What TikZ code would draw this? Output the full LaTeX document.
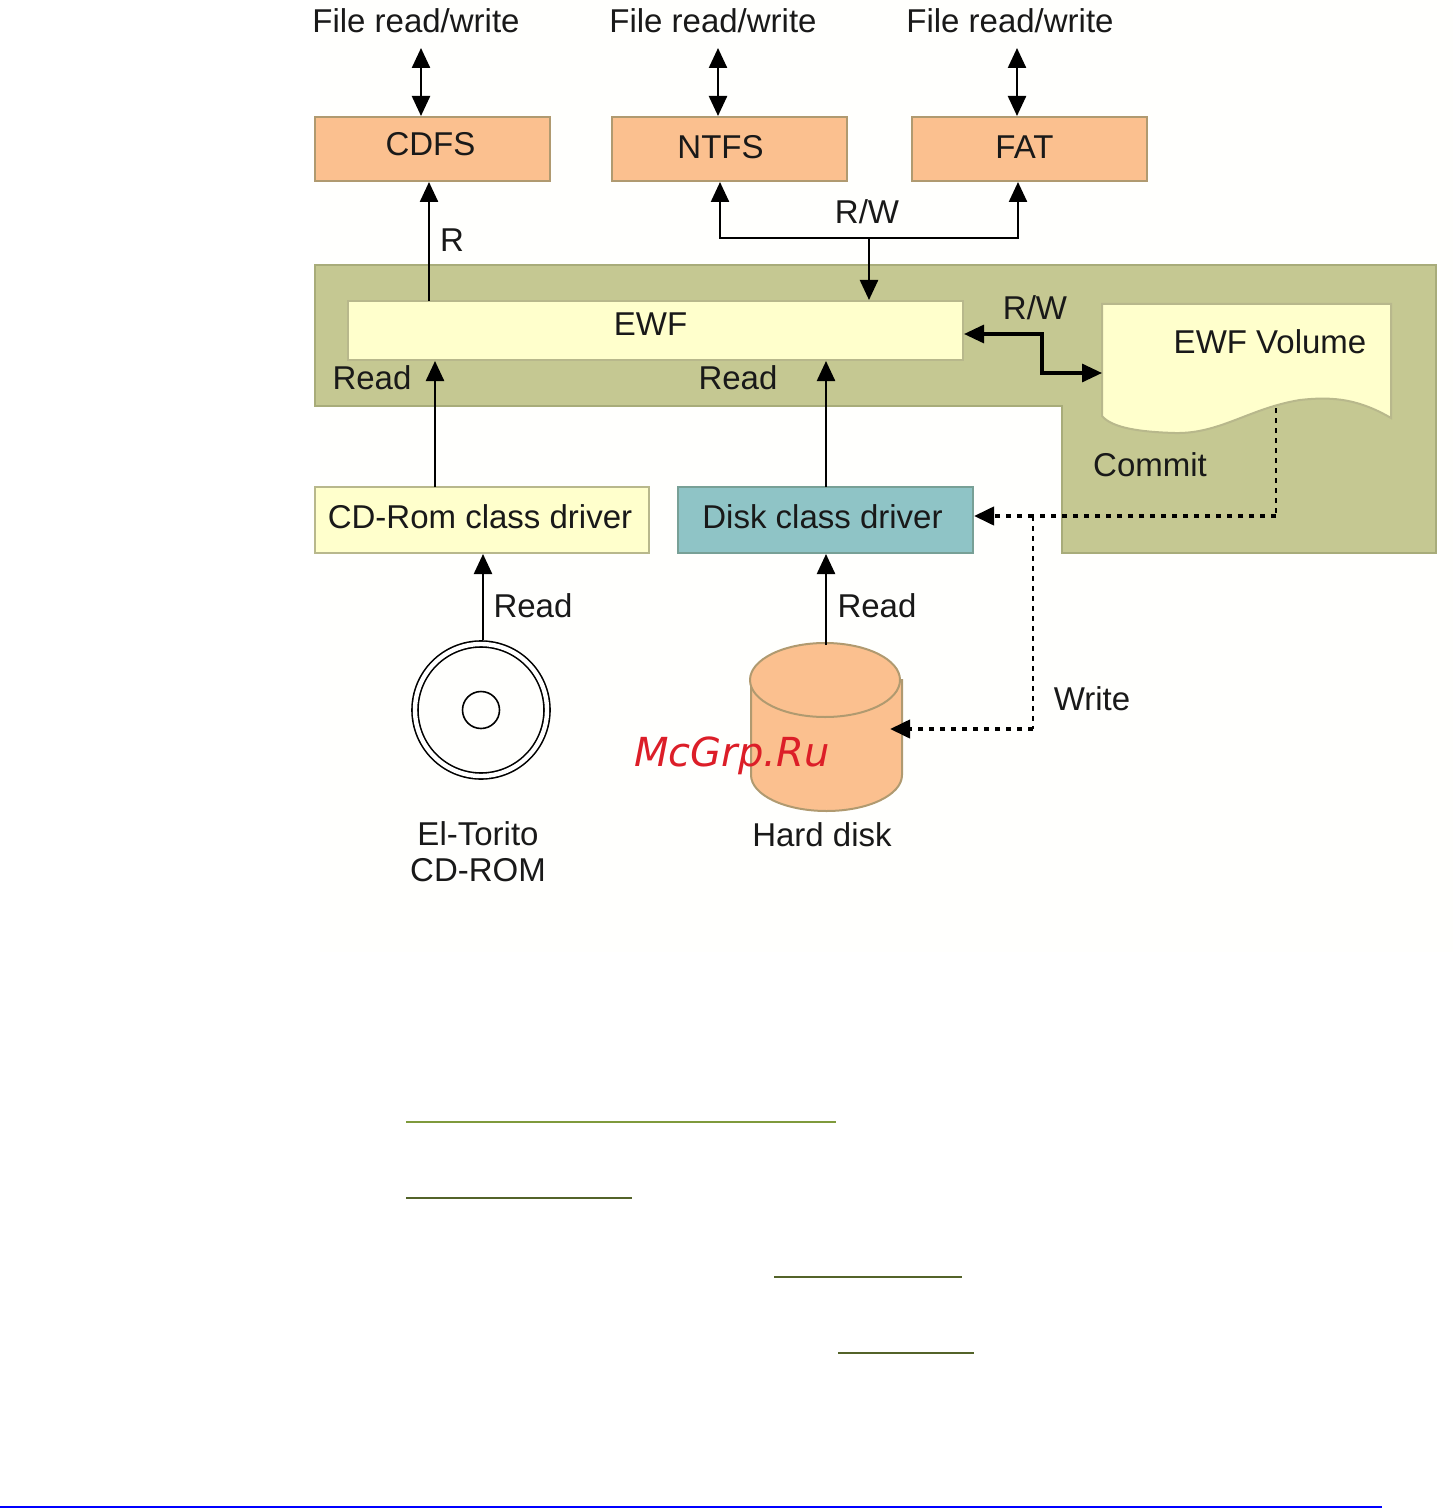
\documentclass[tikz,border=0pt]{standalone}
\usepackage{fontspec}
\setmainfont{Liberation Sans}
\newfontfamily\markfont{DejaVu Sans}
\usetikzlibrary{arrows.meta}
\definecolor{orangebox}{RGB}{251,192,143}
\definecolor{orangeline}{RGB}{176,154,112}
\definecolor{yellowbox}{RGB}{255,255,204}
\definecolor{yellowline}{RGB}{184,184,140}
\definecolor{greenarea}{RGB}{197,200,146}
\definecolor{greenline}{RGB}{168,172,122}
\definecolor{tealbox}{RGB}{143,196,198}
\definecolor{tealline}{RGB}{120,160,150}
\definecolor{olivea}{RGB}{127,154,60}
\definecolor{oliveb}{RGB}{83,99,41}
\tikzset{
    txt/.style={font=\fontsize{16.5}{18}\selectfont,inner sep=0pt,align=center,text=black!90},
    fsbox/.style={txt,draw=orangeline,fill=orangebox,line width=1pt,minimum width=117.5pt,minimum height=32pt},
    ewfbox/.style={txt,draw=yellowline,fill=yellowbox,line width=1pt,minimum width=307.5pt,minimum height=29.5pt},
    drvbox/.style={txt,draw=yellowline,fill=yellowbox,line width=1pt,minimum width=167pt,minimum height=33pt},
    diskbox/.style={txt,draw=tealline,fill=tealbox,line width=1pt,minimum width=147.5pt,minimum height=33pt},
    wire/.style={line width=1.2pt,black},
    heavywire/.style={line width=1.6pt,black},
    dotwire/.style={line width=2pt,black,dash pattern=on 2.5pt off 3pt},
    thindot/.style={line width=1pt,black,dash pattern=on 2.5pt off 2.5pt},
    >={Triangle[length=10pt,width=9pt]},
}
\begin{document}
\begin{tikzpicture}[x=0.5pt,y=-0.5pt]
        \useasboundingbox (0,0) rectangle (1453,1508);
        \fill[white] (0,0) rectangle (1453,1508);
        \fill[yellow!0.7!white] (320,0) rectangle (1453,952);
        % shaded area behind EWF
        \draw[fill=greenarea,draw=greenline,line width=1pt] (315,265) -- (1436,265) -- (1436,553) -- (1062,553) -- (1062,406) -- (315,406) -- cycle;
        \draw[fill=yellowbox,draw=yellowline,line width=1pt] (1102,304) -- (1391,304) -- (1391,418) .. controls (1360,400) and (1335,396) .. (1300,400) .. controls (1250,408) and (1220,434) .. (1175,433) .. controls (1140,432) and (1112,428) .. (1102,416) -- cycle;
        \node[txt] (voltext) at (1270,342) {EWF Volume};
        \node[txt] (committext) at (1150,465) {Commit};
        % file systems
        \node[fsbox,text depth=5pt] (cdfs) at (432.5,149) {CDFS\kern 2pt};
        \node[fsbox,text depth=2pt] (ntfs) at (729.5,149) {NTFS\kern 9pt};
        \node[fsbox,text depth=2pt] (fat) at (1029.5,149) {FAT\kern 5pt};
        \node[ewfbox,text depth=6pt] (ewf) at (655.5,330.5) {EWF\kern 5pt};
        \node[drvbox,text depth=3pt] (cdrom) at (482,520) {CD-Rom class driver\kern 2pt};
        \node[diskbox,text depth=3pt] (diskdrv) at (825.5,520) {Disk class driver\kern 3pt};
        \node[txt] (fileA) at (416,21) {File read/write};
        \node[txt] (fileB) at (713,21) {File read/write};
        \node[txt] (fileC) at (1010,21) {File read/write};
        % disc and hard disk
        \node[circle,draw,double,double distance=2.2pt,line width=0.8pt,minimum size=66pt,inner sep=0pt] (disc) at (481,710) {};
        \node[circle,draw,line width=0.8pt,minimum size=18.5pt,inner sep=0pt] (hole) at (481,710) {};
        \draw[fill=orangebox,draw=orangeline,line width=1pt] (751,680) -- (751,775) arc[start angle=180,end angle=0,x radius=75.5,y radius=36] -- (902,680) -- cycle;
        \draw[fill=orangebox,draw=orangeline,line width=1pt] (825,680) ellipse[x radius=75,y radius=37];
        \coordinate (hddtop) at (826,645);
        \coordinate (hddside) at (890,729);
        \node[txt] (toritotext) at (478,852) {El-Torito\\CD-ROM};
        \node[txt] (hddtext) at (822,835) {Hard disk};
        % connectors
        \coordinate (endA) at (421,48);
        \coordinate (endB) at (718,48);
        \coordinate (endC) at (1017,48);
        \draw[wire,<->] (endA) -- (endA |- cdfs.north);
        \draw[wire,<->] (endB) -- (endB |- ntfs.north);
        \draw[wire,<->] (endC) -- (endC |- fat.north);
        \coordinate (cdfsup) at (429,301);
        \draw[wire,->] (cdfsup) -- (cdfsup |- cdfs.south);
        \node[txt] (rtext) at (452,240) {R};
        \coordinate (busL) at (720,238);
        \coordinate (busM) at (869,238);
        \coordinate (busR) at (1018,238);
        \draw[wire,->] (busM) -- (busL) -- (busL |- ntfs.south);
        \draw[wire,->] (busM) -- (busR) -- (busR |- fat.south);
        \draw[wire,->] (busM) -- (busM |- ewf.north);
        \node[txt] (rwtop) at (867,212) {R/W};
        \coordinate (elbowA) at (1042,334);
        \coordinate (elbowB) at (1042,373);
        \coordinate (volin) at (1102,373);
        \draw[heavywire,<->] (ewf.east |- elbowA) -- (elbowA) -- (elbowB) -- (volin);
        \node[txt] (rwvol) at (1035,308) {R/W};
        \coordinate (cdup) at (435,487);
        \coordinate (diskup) at (826,487);
        \draw[wire,->] (cdup) -- (cdup |- ewf.south);
        \draw[wire,->] (diskup) -- (diskup |- ewf.south);
        \node[txt] (readA) at (372,378) {Read};
        \node[txt] (readB) at (738,378) {Read};
        \coordinate (discup) at (483,640);
        \draw[wire,->] (discup) -- (discup |- cdrom.south);
        \draw[wire,->] (hddtop) -- (hddtop |- diskdrv.south);
        \node[txt] (readC) at (533,606) {Read};
        \node[txt] (readD) at (877,606) {Read};
        % commit and write paths
        \coordinate (volout) at (1276,408);
        \coordinate (commitcorner) at (1276,516);
        \coordinate (branch) at (1033,516);
        \coordinate (writecorner) at (1033,729);
        \draw[thindot] (volout) -- (commitcorner);
        \draw[dotwire] (commitcorner) -- (branch);
        \draw[dotwire,->] (branch) -- (diskdrv.east |- branch);
        \draw[thindot] (branch) -- (writecorner);
        \draw[dotwire,->] (writecorner) -- (hddside);
        \node[txt] (writetext) at (1092,699) {Write};
        \node[font=\markfont\itshape\fontsize{20}{24}\selectfont,text={rgb,255:red,220;green,30;blue,40},inner sep=0pt] (mark) at (732,756) {McGrp.Ru};
        % rules below the figure
        \draw[olivea,line width=1pt] (406,1122) -- (836,1122);
        \draw[oliveb,line width=1pt] (406,1198) -- (632,1198);
        \draw[oliveb,line width=1pt] (774,1277) -- (962,1277);
        \draw[oliveb,line width=1pt] (838,1353) -- (974,1353);
        \draw[blue,line width=1pt] (0,1507) -- (1382,1507);
    \end{tikzpicture}
\end{document}
